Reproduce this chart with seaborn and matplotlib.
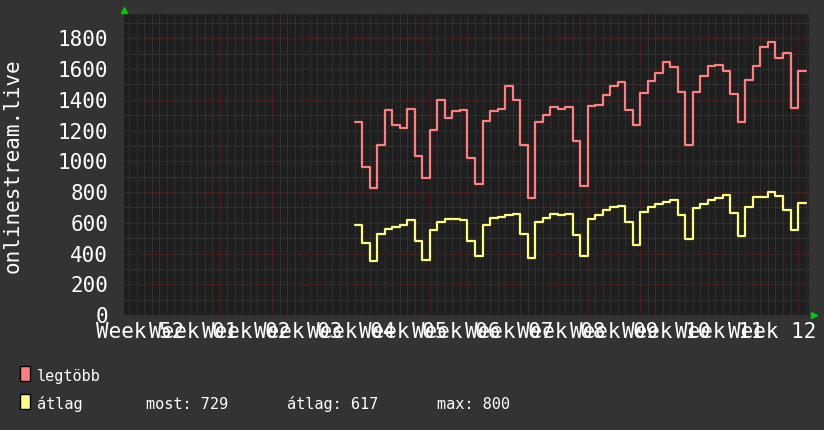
import numpy as np
import pandas as pd
import matplotlib.pyplot as plt
import seaborn as sns
from matplotlib.patches import Rectangle

# napi értékek, a nap sorszáma a Week 01 első napjától számolva
start_day = 25
legtobb = [1256, 960, 825, 1104, 1332, 1236, 1217,
           1339, 1032, 890, 1204, 1399, 1282, 1326,
           1332, 1019, 855, 1260, 1326, 1339, 1491,
           1397, 1104, 762, 1256, 1301, 1352, 1339,
           1352, 1132, 842, 1358, 1365, 1432, 1491,
           1515, 1334, 1234, 1445, 1521, 1574, 1646,
           1615, 1452, 1104, 1452, 1556, 1621, 1628,
           1587, 1439, 1256, 1530, 1621, 1743, 1776,
           1672, 1702, 1345, 1587]
atlag = [583, 470, 353, 529, 557, 570, 585,
         616, 483, 361, 550, 603, 622, 622,
         616, 483, 381, 583, 629, 635, 648,
         660, 524, 368, 603, 629, 660, 648,
         655, 522, 381, 622, 648, 681, 701,
         710, 607, 457, 673, 705, 725, 733,
         746, 648, 496, 694, 723, 751, 759,
         779, 664, 516, 701, 766, 768, 800,
         777, 684, 555, 729]

week_labels = ["Week 52", "Week 01", "Week 02", "Week 03", "Week 04", "Week 05", "Week 06",
               "Week 07", "Week 08", "Week 09", "Week 10", "Week 11", "Week 12"]
series_names = ["legtöbb", "átlag"]
series_colors = ["#ff7f7f", "#ffff7f"]
stats_labels = ["most: 729", "átlag: 617", "max: 800"]
y_label = "onlinestream.live"
y_ticks = [0, 200, 400, 600, 800, 1000, 1200, 1400, 1600, 1800]

sns.set_style("dark", {
    "axes.facecolor": "#1f1f1f",
    "figure.facecolor": "#333333",
    "text.color": "white",
    "xtick.color": "#888888",
    "ytick.color": "#888888",
    "axes.labelcolor": "white",
})
plt.rcParams['font.family'] = ['DejaVu Sans Mono', 'DejaVu Sans']

# lépcsős rajzhoz az utolsó nap végét is hozzáadjuk
days = np.arange(start_day, start_day + len(legtobb) + 1)
df = pd.DataFrame({
    'nap': np.concatenate([days, days]),
    'ertek': legtobb + [legtobb[-1]] + atlag + [atlag[-1]],
    'sorozat': [series_names[0]] * len(days) + [series_names[1]] * len(days),
})

fig = plt.figure(figsize=(8.24, 4.30), dpi=100)
ax = fig.add_axes([124 / 824, 1 - 315 / 430, 685.3 / 824, 301 / 430])
sns.lineplot(data=df, x='nap', y='ertek', hue='sorozat', palette=series_colors,
             drawstyle='steps-post', lw=1.6, legend=False, ax=ax)

ax.set_xlim(-5.72, 85.5)
ax.set_ylim(0, 1958)
for s in ax.spines.values():
    s.set_visible(False)

# rács: heti / 200-as fő vonalak, napi / 100-as mellék vonalak
ax.set_xticks(np.arange(0, 85, 7))
ax.set_xticks(np.arange(-5, 86), minor=True)
ax.set_yticks(y_ticks)
ax.set_yticks(np.arange(100, 1901, 200), minor=True)
ax.grid(which='minor', color='#424242', ls=(0, (1, 1)), lw=0.75)
ax.grid(which='major', color='#5e2c2c', ls=(0, (1, 1)), lw=0.75)
ax.tick_params(axis='x', which='both', labelbottom=False)
ax.tick_params(axis='x', which='major', length=2.5, width=0.7, direction='out')
ax.tick_params(axis='both', which='minor', length=0)
ax.tick_params(axis='y', which='major', length=2.5, width=0.7, pad=9, labelsize=15,
               labelcolor='white')
ax.set_xlabel('')
ax.set_ylabel('')

week_mid = np.arange(-3.5, 84, 7)
sec = ax.secondary_xaxis('bottom')
sec.set_xticks(week_mid, week_labels)
sec.tick_params(length=0, pad=5, labelsize=15, labelcolor='white')
for s in sec.spines.values():
    s.set_visible(False)

# zöld nyilak a tengelyek végén
ax.plot([0], [1 + 4 / 301], marker='^', ms=5, color='#00cc00', mec='#00cc00',
        transform=ax.transAxes, clip_on=False)
ax.plot([1 + 5 / 685], [0], marker='>', ms=5, color='#00cc00', mec='#00cc00',
        transform=ax.transAxes, clip_on=False)

fig.text(13 / 824, 1 - 166 / 430, y_label, rotation=90, ha='center', va='center',
         fontsize=15, color='white')

# jelmagyarázat
rows_y = [380.5, 409]
for name, color, yb in zip(series_names, series_colors, rows_y):
    fig.add_artist(Rectangle((20 / 824, 1 - yb / 430), 10 / 824, 15 / 430,
                             transform=fig.transFigure, fc=color, ec='black', lw=1))
    fig.text(37 / 824, 1 - yb / 430, name, va='baseline', fontsize=11, color='white')
for txt, xl in zip(stats_labels, [146, 287, 437]):
    fig.text(xl / 824, 1 - rows_y[1] / 430, txt, va='baseline', fontsize=11, color='white')

fig.savefig('out.png', dpi=100, facecolor=fig.get_facecolor())
